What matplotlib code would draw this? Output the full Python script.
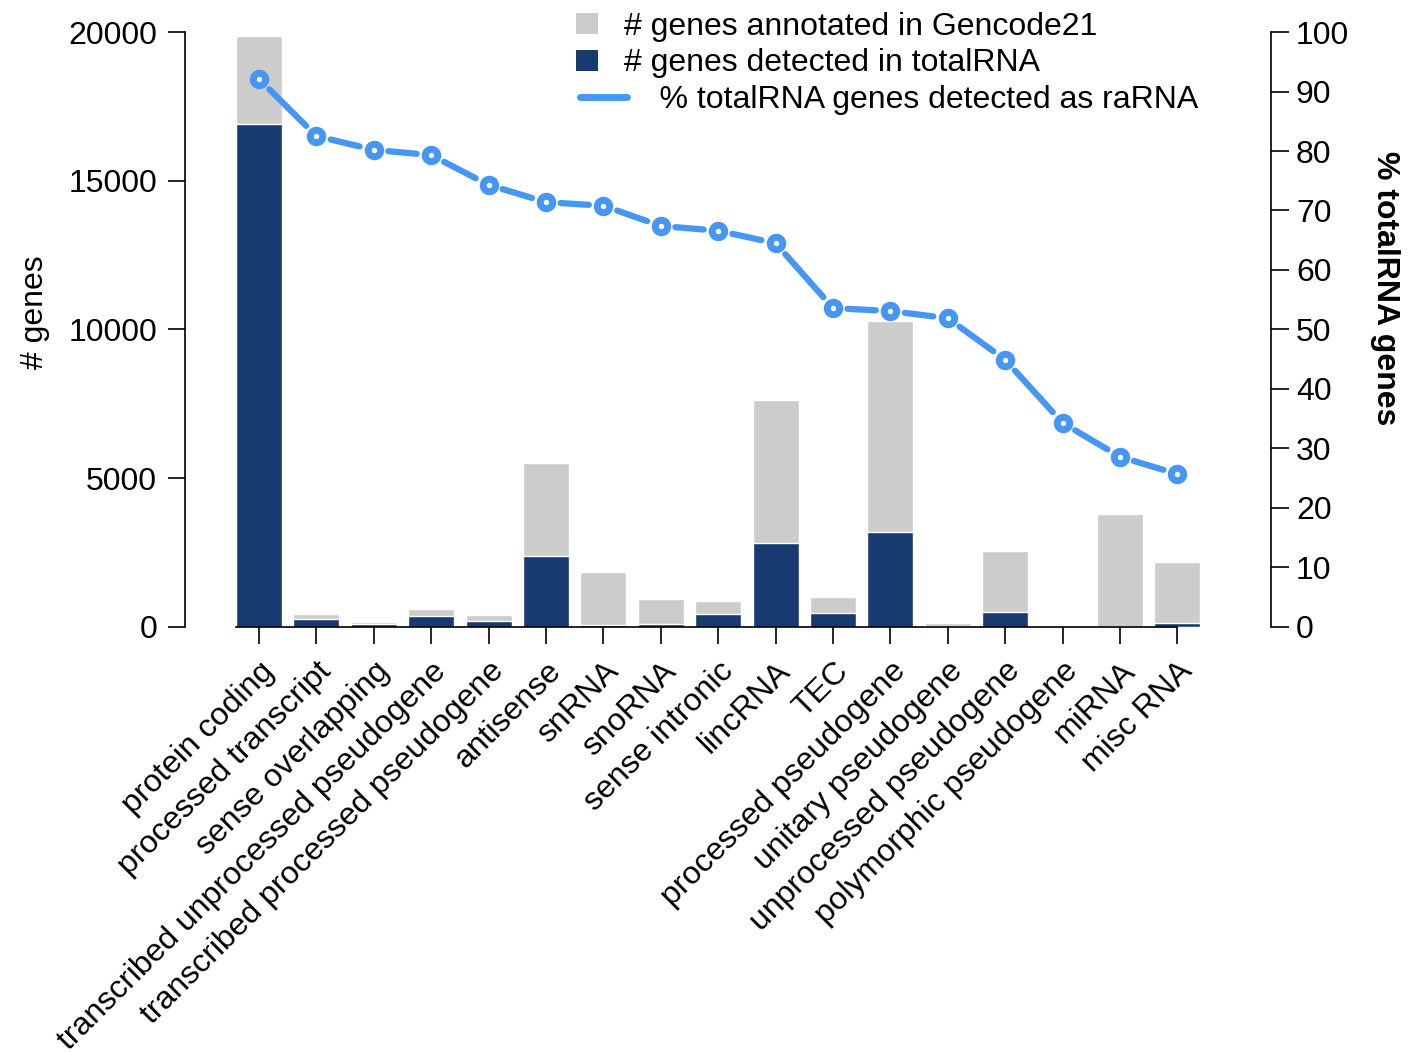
import matplotlib
matplotlib.use('Agg')
import matplotlib.pyplot as plt
from matplotlib.patches import Patch, Rectangle
from matplotlib.lines import Line2D
from matplotlib.legend_handler import HandlerPatch, HandlerLine2D

plt.rcParams['font.family'] = ['Liberation Sans', 'DejaVu Sans']

# gene biotypes
categories = ['protein coding', 'processed transcript', 'sense overlapping',
              'transcribed unprocessed pseudogene', 'transcribed processed pseudogene',
              'antisense', 'snRNA', 'snoRNA', 'sense intronic', 'lincRNA', 'TEC',
              'processed pseudogene', 'unitary pseudogene', 'unprocessed pseudogene',
              'polymorphic pseudogene', 'miRNA', 'misc RNA']
annotated = [19850, 430, 160, 605, 405, 5510, 1850, 940, 875, 7630, 1015,
             10290, 125, 2555, 40, 3800, 2185]
detected = [16900, 265, 90, 370, 200, 2390, 50, 100, 440, 2825, 470,
            3195, 20, 495, 15, 10, 125]
pct_rarna = [92.1, 82.5, 80.2, 79.3, 74.3, 71.4, 70.8, 67.4, 66.6, 64.5, 53.6,
             53.1, 51.9, 44.9, 34.3, 28.6, 25.7]

gray = '#cccccc'
navy = '#173b70'
blue = '#4696f5'
fs = 23

fig = plt.figure(figsize=(14.09, 10.53), dpi=100)
ax = fig.add_axes([0.1313, 0.4046, 0.7707, 0.565])
x = list(range(len(categories)))

ax.bar(x, annotated, width=0.8, color=gray, edgecolor='white', linewidth=1, zorder=1)
ax.bar(x, detected, width=0.8, color=navy, edgecolor='white', linewidth=1, zorder=2)

ax.set_xlim(-1.29, 17.63)
ax.set_ylim(0, 20000)
ax.set_yticks([0, 5000, 10000, 15000, 20000])
ax.set_xticks(x)
ax.set_xticklabels(categories, rotation=45, ha='right', rotation_mode='anchor')
ax.tick_params(axis='both', labelsize=fs, length=12, width=1.2, pad=8)
ax.tick_params(axis='x', pad=9)
ax.spines['top'].set_visible(False)
ax.spines['right'].set_visible(False)
ax.spines['bottom'].set_bounds(-0.4, 16)
ax.spines['left'].set_linewidth(1.2)
ax.spines['bottom'].set_linewidth(1.2)
fig.text(35 / 1409, 1 - 312 / 1053, '# genes', fontsize=fs, rotation=90,
         ha='center', va='center')

ax2 = ax.twinx()
ax2.set_ylim(0, 100)
ax2.set_yticks(range(0, 101, 10))
ax2.tick_params(axis='y', labelsize=fs, length=13, width=1.2, pad=5)
for s in ['top', 'left', 'bottom']:
    ax2.spines[s].set_visible(False)
ax2.spines['right'].set_linewidth(1.2)
fig.text(1385 / 1409, 1 - 288 / 1053, '% totalRNA genes', fontsize=fs,
         fontweight='bold', rotation=270, ha='center', va='center')

# line segments with gaps around the markers
for i in range(len(x) - 1):
    ax2.annotate('', xy=(x[i + 1], pct_rarna[i + 1]), xytext=(x[i], pct_rarna[i]),
                 arrowprops=dict(arrowstyle='-', color=blue, lw=4.5, shrinkA=10.5,
                                 shrinkB=10.5, capstyle='round'), zorder=3)
ax2.plot(x, pct_rarna, ls='none', marker='o', ms=9, mfc='white', mec=blue, mew=5, zorder=5)


class SquareHandler(HandlerPatch):
    def create_artists(self, legend, orig_handle, xdescent, ydescent, width, height,
                       fontsize, trans):
        s = height * 1.05
        r = Rectangle((-xdescent, -ydescent + (height - s) / 2), s, s,
                      facecolor=orig_handle.get_facecolor(), edgecolor='none',
                      transform=trans)
        return [r]


class LongLineHandler(HandlerLine2D):
    def create_artists(self, legend, orig_handle, xdescent, ydescent, width, height,
                       fontsize, trans):
        ln = Line2D([-xdescent + 3, -xdescent + width * 1.6], [height / 2 - ydescent] * 2,
                    color=blue, lw=5, solid_capstyle='round', transform=trans)
        return [ln]


handles = [Patch(facecolor=gray), Patch(facecolor=navy), Line2D([], [], color=blue)]
labels = ['# genes annotated in Gencode21', '# genes detected in totalRNA',
          '    % totalRNA genes detected as raRNA']
ax2.legend(handles, labels, loc='upper right', bbox_to_anchor=(0.945, 1.055),
           frameon=False, fontsize=fs, handlelength=1.0, handleheight=0.6,
           labelspacing=0.2, borderaxespad=0, handletextpad=0.5,
           handler_map={Patch: SquareHandler(), Line2D: LongLineHandler()})

fig.savefig('out.png', dpi=100)
